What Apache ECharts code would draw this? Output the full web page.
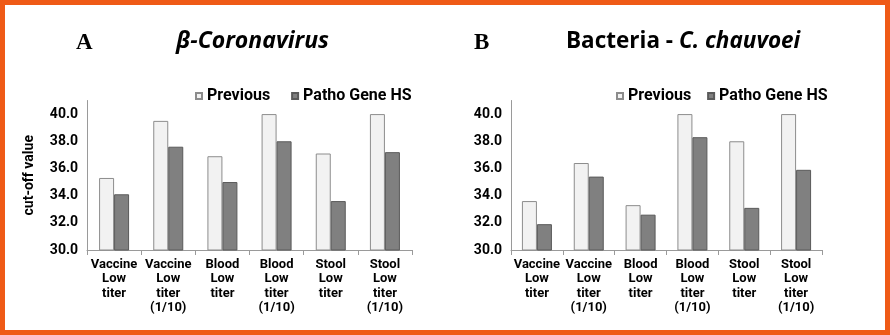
<!DOCTYPE html>
<html>
<head>
<meta charset="utf-8">
<script src="https://cdn.jsdelivr.net/npm/echarts@6/dist/echarts.min.js"></script>
<style>
  html, body { margin: 0; padding: 0; background: #fff; }
  #chart { width: 890px; height: 335px; }
</style>
</head>
<body>
<div id="chart"></div>
<script>
// Sample groups shared by both panels
const categories = [
  'Vaccine\nLow\ntiter',
  'Vaccine\nLow\ntiter\n(1/10)',
  'Blood\nLow\ntiter',
  'Blood\nLow\ntiter\n(1/10)',
  'Stool\nLow\ntiter',
  'Stool\nLow\ntiter\n(1/10)'
];
const seriesNames = ['Previous', 'Patho Gene HS'];

// Panel A: beta-coronavirus cut-off values
const coronaPrevious = [35.3, 39.5, 36.9, 40.0, 37.1, 40.0];
const coronaPathoGene = [34.1, 37.6, 35.0, 38.0, 33.6, 37.2];

// Panel B: C. chauvoei cut-off values
const bacteriaPrevious = [33.6, 36.4, 33.3, 40.0, 38.0, 40.0];
const bacteriaPathoGene = [31.9, 35.4, 32.6, 38.3, 33.1, 35.9];

// Value axis range
const yMin = 30;
const yMax = 41;
const yStep = 2;

const labelFont = 'Roboto';
const titleFont = 'Open Sans';
const axisColor = '#9a9a9a';
const prevStyle = { color: '#f2f2f2', borderColor: '#8c8c8c', borderWidth: 1 };
const pathoStyle = { color: '#808080', borderColor: '#5a5a5a', borderWidth: 1 };

function xAxis(gridIndex) {
  return {
    type: 'category',
    gridIndex,
    data: categories,
    axisLine: { lineStyle: { color: axisColor, width: 1 } },
    axisTick: { show: true, length: 5, lineStyle: { color: axisColor } },
    axisLabel: {
      interval: 0,
      margin: 7,
      color: '#000',
      fontFamily: labelFont,
      fontWeight: 'bold',
      fontSize: 13,
      lineHeight: 14.5,
      align: 'center'
    }
  };
}

function yAxis(gridIndex, name) {
  return {
    type: 'value',
    gridIndex,
    min: yMin,
    max: yMax,
    interval: yStep,
    name,
    nameLocation: 'middle',
    nameGap: 51,
    nameRotate: 90,
    nameTextStyle: { color: '#000', fontFamily: labelFont, fontWeight: 'bold', fontSize: 14 },
    splitLine: { show: false },
    axisTick: { show: false },
    axisLine: { show: true, lineStyle: { color: axisColor, width: 1 } },
    axisLabel: {
      showMaxLabel: false,
      margin: 9,
      color: '#000',
      fontFamily: labelFont,
      fontWeight: 'bold',
      fontSize: 14,
      formatter: v => v.toFixed(1)
    }
  };
}

function bar(name, data, idx, style) {
  return {
    name,
    type: 'bar',
    xAxisIndex: idx,
    yAxisIndex: idx,
    data,
    barWidth: 15,
    barGap: '0%',
    itemStyle: style,
    animation: false
  };
}

const legendText = { color: '#000', fontFamily: labelFont, fontWeight: 'bold', fontSize: 16 };

const option = {
  backgroundColor: '#fff',
  animation: false,
  title: [
    { text: 'A', left: 76, top: 32, padding: 0,
      textStyle: { fontFamily: 'Liberation Serif', fontWeight: 'bold', fontSize: 23, color: '#000' } },
    { text: 'β-Coronavirus', left: 176, top: 30, padding: 0,
      textStyle: { fontFamily: titleFont, fontWeight: 'bold', fontStyle: 'italic', fontSize: 23, color: '#000' } },
    { text: 'B', left: 474, top: 32, padding: 0,
      textStyle: { fontFamily: 'Liberation Serif', fontWeight: 'bold', fontSize: 23, color: '#000' } },
    { text: '{n|Bacteria - }{i|C. chauvoei}', left: 566, top: 30, padding: 0,
      textStyle: {
        color: '#000',
        rich: {
          n: { fontFamily: titleFont, fontWeight: 'bold', fontSize: 22.5, color: '#000' },
          i: { fontFamily: titleFont, fontWeight: 'bold', fontStyle: 'italic', fontSize: 22.5, color: '#000' }
        }
      } }
  ],
  legend: [
    { data: seriesNames, left: 195, top: 88, padding: 0, itemGap: 21, itemWidth: 6, itemHeight: 6,
      icon: 'rect', textStyle: legendText, selectedMode: false },
    { data: seriesNames, left: 616, top: 88, padding: 0, itemGap: 16, itemWidth: 6, itemHeight: 6,
      icon: 'rect', textStyle: legendText, selectedMode: false }
  ],
  grid: [
    { left: 87, top: 100.5, width: 325, height: 149.5 },
    { left: 511, top: 100.5, width: 311, height: 149.5 }
  ],
  xAxis: [xAxis(0), xAxis(1)],
  yAxis: [yAxis(0, 'cut-off value'), yAxis(1, '')],
  series: [
    bar(seriesNames[0], coronaPrevious, 0, prevStyle),
    bar(seriesNames[1], coronaPathoGene, 0, pathoStyle),
    bar(seriesNames[0], bacteriaPrevious, 1, prevStyle),
    bar(seriesNames[1], bacteriaPathoGene, 1, pathoStyle)
  ],
  graphic: [
    { type: 'rect', silent: true, z: 100,
      shape: { x: 2.5, y: 2.5, width: 885, height: 330 },
      style: { fill: null, stroke: '#ef5a16', lineWidth: 5 } }
  ]
};

const chart = echarts.init(document.getElementById('chart'), null, { renderer: 'canvas' });
chart.setOption(option);
</script>
</body>
</html>
